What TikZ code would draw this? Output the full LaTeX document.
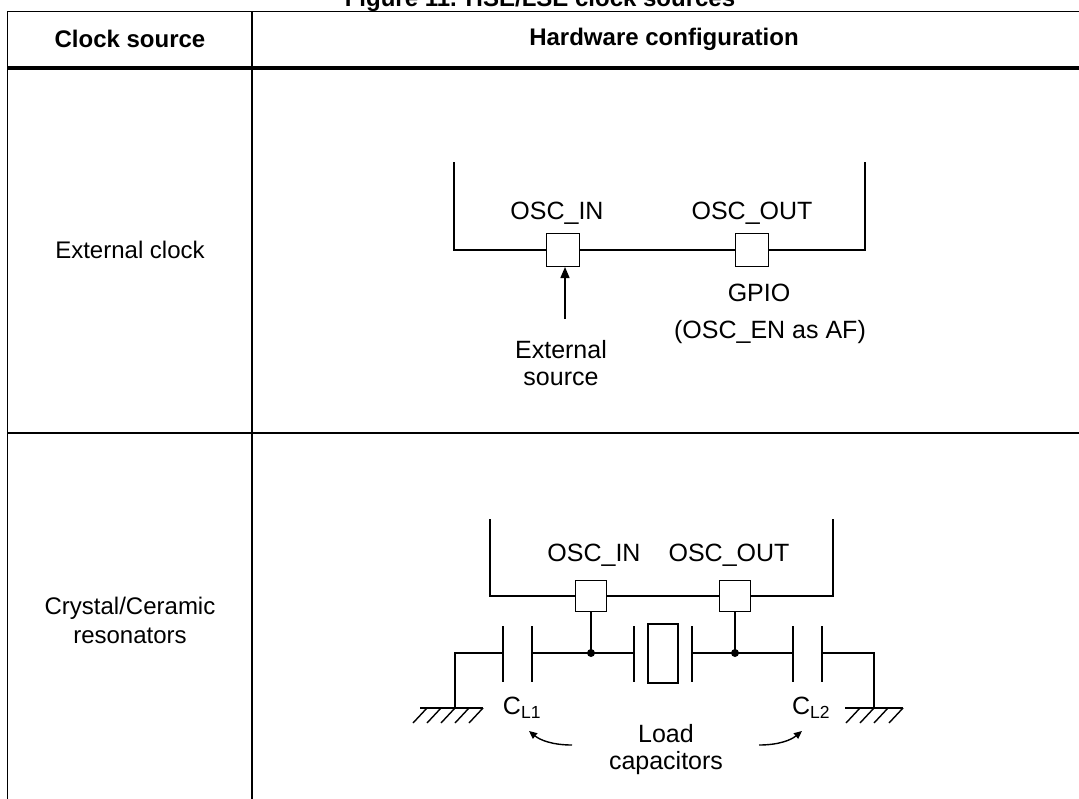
\documentclass[tikz,border=0pt]{standalone}
\usepackage{fontspec}
\setmainfont{Liberation Sans}
\usetikzlibrary{arrows.meta}
\begin{document}
\begin{tikzpicture}[x=1pt,y=-1pt,
  tbl/.style={line width=1.5pt},
  chip/.style={line width=2.4pt},
  wire/.style={line width=1.4pt},
  pin/.style={draw,line width=1.4pt,minimum size=31pt,inner sep=0pt,fill=white},
  ttxt/.style={font=\fontsize{24}{29}\selectfont,inner sep=0pt,align=center},
  txt/.style={font=\fontsize{25}{27}\selectfont,inner sep=0pt,align=center},
  hdr/.style={font=\fontsize{24}{29}\selectfont\bfseries,inner sep=0pt,align=center},
  dot/.style={circle,fill,inner sep=0pt,minimum size=8pt}]
\useasboundingbox (0,0) rectangle (1079,798);
\begin{scope}
\clip (0,0) rectangle (1079,798);
\node[hdr,anchor=base] (title) at (540,6) {Figure 11. HSE/LSE clock sources};
% table
\draw[tbl] (7.5,805) -- (7.5,11.5) -- (1085,11.5);
\draw[tbl] (252,11.5) -- (252,805);
\draw[line width=4.5pt] (7.5,68) -- (1085,68);
\draw[tbl] (7.5,433) -- (1085,433);
\end{scope}
\node[hdr] (h1) at (130,39) {Clock source};
\node[hdr] (h2) at (664,39) {Hardware configuration};
\node[ttxt] (r1) at (130,250) {External clock};
\node[ttxt] (r2) at (130,620) {Crystal/Ceramic\\resonators};
% ---- external clock
\draw[chip] (454,162) -- (454,250) -- (865,250) -- (865,162);
\node[pin,minimum size=33pt] (pi1) at (563,250) {};
\node[pin,minimum size=33pt] (po1) at (752,250) {};
\node[txt] (li1) at (557,213) {OSC\_IN};
\node[txt] (lo1) at (752,213) {OSC\_OUT};
\coordinate (src) at (565,319);
\draw[wire,-{Triangle[length=11pt,width=9pt]}] (src) -- (565,267);
\node[txt] (ext) at (561,363) {External\\source};
\node[txt] (gpio) at (759,293) {GPIO};
\node[txt] (af) at (770,332) {(OSC\_EN as AF)};
% ---- crystal
\draw[chip] (490,519) -- (490,596) -- (833,596) -- (833,519);
\node[pin] (pi2) at (591,596) {};
\node[pin] (po2) at (735,596) {};
\node[txt] (li2) at (594,555) {OSC\_IN};
\node[txt] (lo2) at (729,555) {OSC\_OUT};
\node[dot] (d1) at (591,653) {};
\node[dot] (d2) at (735,653) {};
\draw[wire] (pi2.south) -- (d1.center);
\draw[wire] (po2.south) -- (d2.center);
% plates
\draw[wire] (503,626) -- (503,682) (532,626) -- (532,682);
\draw[wire] (634,626) -- (634,682) (692,626) -- (692,682);
\draw[wire] (793,626) -- (793,682) (822,626) -- (822,682);
\draw[wire] (648,624) rectangle (678,683);
\draw[wire] (503,653) -- (455,653) -- (455,708);
\draw[wire] (532,653) -- (d1.center) -- (634,653);
\draw[wire] (692,653) -- (d2.center) -- (793,653);
\draw[wire] (822,653) -- (874,653) -- (874,708);
% grounds
\draw[wire] (420,708) -- (483,708);
\foreach \x in {427,441,455,469,483} \draw[wire] (\x,708) -- (\x-14,723);
\draw[wire] (845,708) -- (903,708);
\foreach \x in {860,874,888,903} \draw[wire] (\x,708) -- (\x-14,723);
\node[txt] (cl1) at (522,708) {C\textsubscript{L1}};
\node[txt] (cl2) at (811,708) {C\textsubscript{L2}};
\node[txt] (load) at (666,750) {Load\\capacitors};
\coordinate (a1) at (572,745);
\coordinate (a2) at (759,745);
\draw[wire,-{Triangle[length=8pt,width=7pt]}] (a1) .. controls (552,745) and (540,740) .. (529,731);
\draw[wire,-{Triangle[length=8pt,width=7pt]}] (a2) .. controls (779,745) and (791,740) .. (802,731);
\end{tikzpicture}
\end{document}
